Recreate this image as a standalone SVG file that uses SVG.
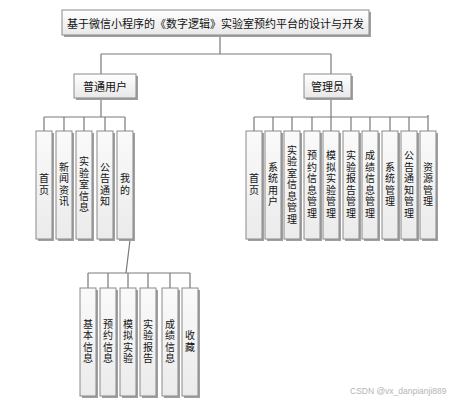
<svg xmlns="http://www.w3.org/2000/svg" width="457" height="401" viewBox="0 0 457 401">
<defs>
<linearGradient id="g" x1="0" y1="0" x2="0" y2="1">
<stop offset="0" stop-color="#ffffff"/>
<stop offset="1" stop-color="#e8e8e8"/>
</linearGradient>
<linearGradient id="gv" x1="0" y1="0" x2="0" y2="1">
<stop offset="0" stop-color="#fafafa"/>
<stop offset="1" stop-color="#ebebeb"/>
</linearGradient>
</defs>
<style>
.sh{fill:#a0a0a0}
.bx{fill:url(#g);stroke:#8a8a8a;stroke-width:1}
.bv{fill:url(#gv);stroke:#8a8a8a;stroke-width:1}
.t{font-family:"Noto Sans CJK SC","Noto Sans",sans-serif;font-size:11px;fill:#111;text-anchor:middle;dominant-baseline:central}
.v{font-family:"Noto Sans CJK SC","Noto Sans",sans-serif;font-size:10px;fill:#111;text-anchor:middle;writing-mode:vertical-rl;text-orientation:upright;letter-spacing:1.5px}
.c{fill:none;stroke:#7a7a7a;stroke-width:1.2}
.wm{font-family:"Liberation Sans",Arial,sans-serif;font-size:8.5px;fill:#b5b5b5}
</style>
<rect width="457" height="401" fill="#ffffff"/>
<g id="connectors">
<path class="c" d="M220,35V54M101,54H331M101,54V74M331,54V74"/>
<path class="c" d="M101,98V117M44,117H125M44,117V131M64,117V131M84,117V131M105,117V131M125,117V131"/>
<path class="c" d="M331,98V117M254,117H428M254,117V131M273,117V131M292,117V131M312,117V131M331,117V131M351,117V131M370,117V131M390,117V131M409,117V131M428,115V131"/>
<path class="c" d="M130,240L126,273M88,273H190M88,273V288M108,273V288M128,273V288M148,273V288M170,273V288M190,273V288"/>
</g>
<g id="root"><rect class="sh" x="64" y="12" width="307" height="25"/><rect class="bx" x="62" y="10" width="307" height="25"/><text class="t" x="215.5" y="22.5">基于微信小程序的《数字逻辑》实验室预约平台的设计与开发</text></g>
<g id="user"><rect class="sh" x="76" y="76" width="62" height="24"/><rect class="bx" x="74" y="74" width="62" height="24"/><text class="t" x="105" y="86">普通用户</text></g>
<g id="admin"><rect class="sh" x="306" y="76" width="47" height="24"/><rect class="bx" x="304" y="74" width="47" height="24"/><text class="t" x="327.5" y="86">管理员</text></g>
<g id="u1"><rect class="sh" x="38" y="133" width="16" height="108"/><rect class="bv" x="36" y="131" width="16" height="108"/><text class="v" x="44" y="185">首页</text></g>
<g id="u2"><rect class="sh" x="58" y="133" width="16" height="108"/><rect class="bv" x="56" y="131" width="16" height="108"/><text class="v" x="64" y="185">新闻资讯</text></g>
<g id="u3"><rect class="sh" x="78" y="133" width="16" height="108"/><rect class="bv" x="76" y="131" width="16" height="108"/><text class="v" x="84" y="185">实验室信息</text></g>
<g id="u4"><rect class="sh" x="99" y="133" width="16" height="108"/><rect class="bv" x="97" y="131" width="16" height="108"/><text class="v" x="105" y="185">公告通知</text></g>
<g id="u5"><rect class="sh" x="119" y="133" width="16" height="108"/><rect class="bv" x="117" y="131" width="16" height="108"/><text class="v" x="125" y="185">我的</text></g>
<g id="a1"><rect class="sh" x="248" y="133" width="16" height="108"/><rect class="bv" x="246" y="131" width="16" height="108"/><text class="v" x="254" y="185">首页</text></g>
<g id="a2"><rect class="sh" x="267" y="133" width="16" height="108"/><rect class="bv" x="265" y="131" width="16" height="108"/><text class="v" x="273" y="185">系统用户</text></g>
<g id="a3"><rect class="sh" x="286" y="133" width="16" height="108"/><rect class="bv" x="284" y="131" width="16" height="108"/><text class="v" x="292" y="185">实验室信息管理</text></g>
<g id="a4"><rect class="sh" x="306" y="133" width="16" height="108"/><rect class="bv" x="304" y="131" width="16" height="108"/><text class="v" x="312" y="185">预约信息管理</text></g>
<g id="a5"><rect class="sh" x="325" y="133" width="16" height="108"/><rect class="bv" x="323" y="131" width="16" height="108"/><text class="v" x="331" y="185">模拟实验管理</text></g>
<g id="a6"><rect class="sh" x="345" y="133" width="16" height="108"/><rect class="bv" x="343" y="131" width="16" height="108"/><text class="v" x="351" y="185">实验报告管理</text></g>
<g id="a7"><rect class="sh" x="364" y="133" width="16" height="108"/><rect class="bv" x="362" y="131" width="16" height="108"/><text class="v" x="370" y="185">成绩信息管理</text></g>
<g id="a8"><rect class="sh" x="384" y="133" width="16" height="108"/><rect class="bv" x="382" y="131" width="16" height="108"/><text class="v" x="390" y="185">系统管理</text></g>
<g id="a9"><rect class="sh" x="403" y="133" width="16" height="108"/><rect class="bv" x="401" y="131" width="16" height="108"/><text class="v" x="409" y="185">公告通知管理</text></g>
<g id="a10"><rect class="sh" x="422" y="133" width="16" height="108"/><rect class="bv" x="420" y="131" width="16" height="108"/><text class="v" x="428" y="185">资源管理</text></g>
<g id="m1"><rect class="sh" x="82" y="290" width="16" height="108"/><rect class="bv" x="80" y="288" width="16" height="108"/><text class="v" x="88" y="342">基本信息</text></g>
<g id="m2"><rect class="sh" x="102" y="290" width="16" height="108"/><rect class="bv" x="100" y="288" width="16" height="108"/><text class="v" x="108" y="342">预约信息</text></g>
<g id="m3"><rect class="sh" x="122" y="290" width="16" height="108"/><rect class="bv" x="120" y="288" width="16" height="108"/><text class="v" x="128" y="342">模拟实验</text></g>
<g id="m4"><rect class="sh" x="142" y="290" width="16" height="108"/><rect class="bv" x="140" y="288" width="16" height="108"/><text class="v" x="148" y="342">实验报告</text></g>
<g id="m5"><rect class="sh" x="164" y="290" width="16" height="108"/><rect class="bv" x="162" y="288" width="16" height="108"/><text class="v" x="170" y="342">成绩信息</text></g>
<g id="m6"><rect class="sh" x="184" y="290" width="16" height="108"/><rect class="bv" x="182" y="288" width="16" height="108"/><text class="v" x="190" y="342">收藏</text></g>
<text class="wm" x="350" y="394">CSDN @vx_danpianji889</text>
</svg>
